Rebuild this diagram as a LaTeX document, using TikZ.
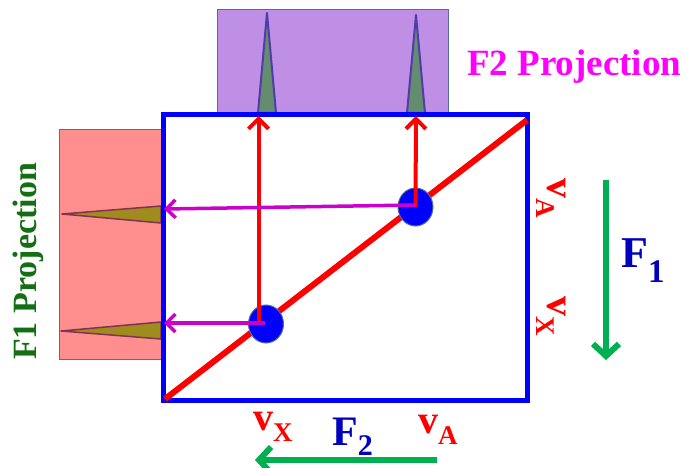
\documentclass[tikz,border=0pt]{standalone}
\usepackage{fontspec}
\setmainfont{Liberation Serif}
\usetikzlibrary{arrows.meta,shapes.geometric}
\definecolor{lav}{RGB}{191,143,230}
\definecolor{boxedge}{RGB}{84,110,150}
\definecolor{peakg}{RGB}{100,140,110}
\definecolor{peakgedge}{RGB}{80,60,170}
\definecolor{pinkf}{RGB}{255,143,143}
\definecolor{olive}{RGB}{160,140,30}
\definecolor{oliveedge}{RGB}{130,50,80}
\definecolor{magarrow}{RGB}{204,0,204}
\definecolor{magtext}{RGB}{255,0,255}
\definecolor{projgreen}{RGB}{20,110,20}
\definecolor{fblue}{RGB}{0,0,190}
\definecolor{arrgreen}{RGB}{0,176,80}
\newcommand{\vlab}[1]{{\fontsize{40}{40}\selectfont v}\raisebox{-11pt}{\fontsize{27}{27}\selectfont #1}}
\begin{document}
\begin{tikzpicture}[x=1pt,y=-1pt,
  projbox/.style={draw=boxedge,line width=1pt},
  bluebox/.style={draw=blue,line width=5pt},
  redarrow/.style={red,line width=4pt,-{Straight Barb[length=10pt,width=20pt]}},
  magline/.style={magarrow,line width=3.5pt,-{Straight Barb[length=9pt,width=18pt]}},
  greenarrow/.style={arrgreen,line width=6pt,-{Straight Barb[length=12pt,width=26pt]}},
  dot/.style={ellipse,fill=blue,draw=boxedge,line width=1pt,minimum width=35pt,minimum height=38pt,inner sep=0pt},
  lab/.style={inner sep=0pt,font=\bfseries},
  peakF2/.style={fill=peakg,draw=peakgedge,line width=2pt,line join=round},
  peakF1/.style={fill=olive,draw=oliveedge,line width=1.5pt,line join=round}]
\useasboundingbox (0,0) rectangle (682,468);
% projection boxes
\draw[projbox,fill=lav] (217,10) rectangle (448,114);
\draw[projbox,fill=pinkf] (59,129) rectangle (161,359);
% peaks
\draw[peakF2] (258,113) -- (267,13) -- (276,113) -- cycle;
\draw[peakF2] (407,113) -- (416,15) -- (425,113) -- cycle;
\draw[peakF1] (161,206) -- (62,214) -- (161,223) -- cycle;
\draw[peakF1] (161,322) -- (61,331) -- (161,339) -- cycle;
% main square
\draw[bluebox] (163.5,115) rectangle (527,400);
% diagonal
\coordinate (d0) at (165,399);
\coordinate (d1) at (527,120);
\draw[red,line width=6pt] (d0) -- (d1);
% dots
\node[dot] (cA) at (415.5,207) {};
\node[dot] (cX) at (266,324) {};
% projections
\coordinate (pX) at (258.5,323);
\coordinate (tX) at (258.5,116);
\coordinate (tA) at (416,116);
\coordinate (mA0) at (416,205);
\coordinate (lA) at (164,209);
\coordinate (mX0) at (265,323);
\coordinate (lX) at (164,323);
\draw[redarrow] (pX) -- (tX);
\draw[redarrow] (cA.center) -- (tA);
\draw[magline] (mA0) -- (lA);
\draw[magline] (mX0) -- (lX);
% labels
\node[lab,anchor=base west,text=magtext,font=\bfseries\fontsize{37}{37}\selectfont] (f2p) at (467,76) {F2 Projection};
\node[lab,anchor=base west,rotate=90,text=projgreen,font=\bfseries\fontsize{34}{34}\selectfont] (f1p) at (36,360) {F1 Projection};
\node[lab,anchor=base west,text=red] (rvA) at (547,178) [rotate=-90] {\vlab{A}};
\node[lab,anchor=base west,text=red] (rvX) at (547,296) [rotate=-90] {\vlab{X}};
\node[lab,anchor=base west,text=red] (bvX) at (253,430) {\vlab{X}};
\node[lab,anchor=base west,text=red] (bvA) at (418,433) {\vlab{A}};
\node[lab,anchor=base west,text=fblue] (F1) at (621,267) {{\fontsize{44}{44}\selectfont F}\raisebox{-15pt}{\fontsize{33}{33}\selectfont 1}};
\node[lab,anchor=base west,text=fblue] (F2) at (332,445) {{\fontsize{42}{42}\selectfont F}\raisebox{-10pt}{\fontsize{30}{30}\selectfont 2}};
% force arrows
\coordinate (g1a) at (606,180);
\coordinate (g1b) at (606,360);
\coordinate (g2a) at (437,460);
\coordinate (g2b) at (255,460);
\draw[greenarrow] (g1a) -- (g1b);
\draw[greenarrow] (g2a) -- (g2b);
\end{tikzpicture}
\end{document}
